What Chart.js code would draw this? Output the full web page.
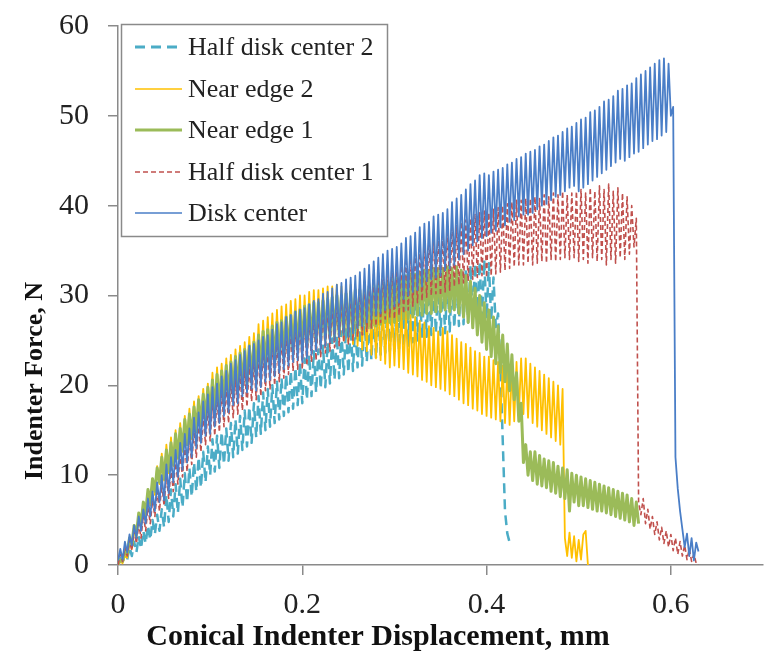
<!DOCTYPE html>
<html>
<head>
<meta charset="utf-8">
<script src="https://cdn.jsdelivr.net/npm/chart.js@4/dist/chart.umd.min.js"></script>
<style>
  html, body { margin: 0; padding: 0; background: #fff; }
  canvas { display: block; }
</style>
</head>
<body>
<canvas id="indenter" width="783" height="662"></canvas>
<script>
// displacement (mm), shared sampling grid, one row per 0.05 mm
const displacement = [
  0, 0.0025, 0.005, 0.0075, 0.01, 0.0125, 0.015, 0.0175, 0.02, 0.0225, 0.025, 0.0275, 0.03, 0.0325, 0.035, 0.0375, 0.04, 0.0425, 0.045, 0.0475,
  0.05, 0.0525, 0.055, 0.0575, 0.06, 0.0625, 0.065, 0.0675, 0.07, 0.0725, 0.075, 0.0775, 0.08, 0.0825, 0.085, 0.0875, 0.09, 0.0925, 0.095, 0.0975,
  0.1, 0.1025, 0.105, 0.1075, 0.11, 0.1125, 0.115, 0.1175, 0.12, 0.1225, 0.125, 0.1275, 0.13, 0.1325, 0.135, 0.1375, 0.14, 0.1425, 0.145, 0.1475,
  0.15, 0.1525, 0.155, 0.1575, 0.16, 0.1625, 0.165, 0.1675, 0.17, 0.1725, 0.175, 0.1775, 0.18, 0.1825, 0.185, 0.1875, 0.19, 0.1925, 0.195, 0.1975,
  0.2, 0.2025, 0.205, 0.2075, 0.21, 0.2125, 0.215, 0.2175, 0.22, 0.2225, 0.225, 0.2275, 0.23, 0.2325, 0.235, 0.2375, 0.24, 0.2425, 0.245, 0.2475,
  0.25, 0.2525, 0.255, 0.2575, 0.26, 0.2625, 0.265, 0.2675, 0.27, 0.2725, 0.275, 0.2775, 0.28, 0.2825, 0.285, 0.2875, 0.29, 0.2925, 0.295, 0.2975,
  0.3, 0.3025, 0.305, 0.3075, 0.31, 0.3125, 0.315, 0.3175, 0.32, 0.3225, 0.325, 0.3275, 0.33, 0.3325, 0.335, 0.3375, 0.34, 0.3425, 0.345, 0.3475,
  0.35, 0.3525, 0.355, 0.3575, 0.36, 0.3625, 0.365, 0.3675, 0.37, 0.3725, 0.375, 0.3775, 0.38, 0.3825, 0.385, 0.3875, 0.39, 0.3925, 0.395, 0.3975,
  0.4, 0.4025, 0.405, 0.4075, 0.41, 0.4125, 0.415, 0.4175, 0.42, 0.4225, 0.425, 0.4275, 0.43, 0.4325, 0.435, 0.4375, 0.44, 0.4425, 0.445, 0.4475,
  0.45, 0.4525, 0.455, 0.4575, 0.46, 0.4625, 0.465, 0.4675, 0.47, 0.4725, 0.475, 0.4775, 0.48, 0.4825, 0.485, 0.4875, 0.49, 0.4925, 0.495, 0.4975,
  0.5, 0.5025, 0.505, 0.5075, 0.51, 0.5125, 0.515, 0.5175, 0.52, 0.5225, 0.525, 0.5275, 0.53, 0.5325, 0.535, 0.5375, 0.54, 0.5425, 0.545, 0.5475,
  0.55, 0.5525, 0.555, 0.5575, 0.56, 0.5625, 0.565, 0.5675, 0.57, 0.5725, 0.575, 0.5775, 0.58, 0.5825, 0.585, 0.5875, 0.59, 0.5925, 0.595, 0.5975,
  0.6, 0.6025, 0.605, 0.6075, 0.61, 0.6125, 0.615, 0.6175, 0.62, 0.6225, 0.625, 0.6275, 0.63];

// indenter force (N) per series
const halfDiskCenter2 = [
  0, 0.8, 0.2, 1.4, 0.6, 2, 1, 2.6, 1.4, 3.2, 1.8, 3.8, 2.4, 4.4, 2.8, 5, 3.4, 5.6, 3.8, 6.2,
  4.2, 7.8, 4.8, 8.4, 5.4, 9, 5.8, 9.6, 6.4, 10.2, 7, 10.8, 7.6, 11.4, 8.2, 12, 8.6, 12.6, 9.2, 13.2,
  10, 14, 10.4, 14.4, 10.8, 14.8, 11.2, 15.2, 11.6, 15.8, 12, 16.2, 12.4, 16.6, 12.8, 17.2, 13.2, 17.6, 13.6, 18,
  14.2, 18.8, 14.6, 19.2, 15, 19.6, 15.4, 20, 15.8, 20.4, 16.2, 20.8, 16.6, 21.2, 17, 21.6, 17.4, 22, 17.8, 22.6,
  18, 23, 18.4, 23.4, 18.8, 23.8, 19.2, 24, 19.6, 24.4, 19.8, 24.8, 20.2, 25.2, 20.6, 25.6, 20.8, 26, 21.2, 26.4,
  21.4, 26.6, 21.6, 27, 22, 27.2, 22.2, 27.6, 22.6, 27.8, 22.8, 28.2, 23, 28.4, 23.4, 28.8, 23.6, 29, 23.8, 29.2,
  23.8, 29.4, 24, 29.6, 24.2, 29.8, 24.4, 30.2, 24.8, 30.4, 25, 30.6, 25.2, 31, 25.4, 31.2, 25.6, 31.4, 25.8, 31.6,
  25.6, 31.6, 25.8, 32, 26, 32.2, 26.4, 32.4, 26.6, 32.8, 26.8, 33, 27, 33.4, 27.2, 33.6, 27.4, 33.8, 27.6, 34,
  27.4, 33.6, 27.2, 32, 26.5, 28, 22, 14, 6, 3.5, 2.5];

const nearEdge2 = [
  0, 0.4, 0.2, 1, 0.8, 2.6, 1.8, 4, 3, 5.4, 4.2, 6.8, 5.4, 8.2, 6.6, 9.6, 7.8, 11, 9, 12.4,
  9.4, 13.4, 10.2, 14.2, 11, 15, 11.8, 15.8, 12.6, 16.6, 13.4, 17.4, 14, 18.2, 14.8, 18.8, 15.4, 19.6, 16, 20.2,
  16.6, 21.4, 17.2, 22, 17.8, 22.4, 18.2, 23, 18.8, 23.4, 19.2, 24, 19.6, 24.4, 20.2, 24.8, 20.6, 25.4, 21, 25.8,
  21.2, 26.8, 21.6, 27.2, 22, 27.6, 22.4, 28, 22.6, 28.4, 23, 28.8, 23.2, 29, 23.6, 29.4, 23.8, 29.6, 24, 30,
  24, 30, 24.2, 30.4, 24.4, 30.6, 24.6, 30.6, 24.8, 30.8, 24.8, 31, 25, 31, 25, 31.2, 25.2, 31, 25, 31,
  24.8, 31.2, 24.6, 30.8, 24.4, 30.6, 24, 30.4, 23.8, 30, 23.4, 29.8, 23, 29.4, 22.8, 29, 22.4, 28.8, 22, 28.4,
  22.2, 28.8, 22, 28.6, 21.8, 28.2, 21.4, 27.8, 21.2, 27.6, 21, 27.2, 20.6, 27, 20.4, 26.6, 20, 26.4, 19.8, 26,
  19.6, 26.4, 19.4, 26, 19, 25.6, 18.8, 25.2, 18.4, 24.8, 18, 24.6, 17.8, 24.2, 17.4, 23.8, 17.2, 23.6, 16.8, 23.2,
  16.6, 23.2, 16.4, 22.8, 16.2, 22.6, 16, 22.2, 15.8, 22, 15.6, 21.8, 16, 22.6, 16.6, 23, 16.8, 23, 16.4, 22.4,
  15.8, 22, 15.4, 21.6, 15, 21.2, 14.6, 20.8, 14.2, 20.4, 13.8, 20, 13.4, 19.6, 3, 1, 3.6, 0.8, 3.2, 0.4,
  2.8, 0.6, 3.4, 3.8, 0];

const nearEdge1 = [
  0, 0.6, 0.4, 1.6, 1.2, 3, 2.2, 4.4, 3.4, 5.8, 4.6, 7, 5.8, 8.4, 7, 9.6, 8.2, 10.8, 9.2, 12,
  9.6, 12.8, 10.4, 13.6, 11.2, 14.6, 12, 15.2, 12.8, 16.2, 13.4, 16.8, 14.2, 17.6, 14.8, 18.4, 15.6, 19, 16.2, 19.8,
  16.4, 20.6, 17, 21.2, 17.6, 21.6, 18, 22.2, 18.6, 22.6, 19, 23.2, 19.4, 23.6, 19.8, 24, 20.2, 24.4, 20.6, 24.8,
  21.2, 25.6, 21.6, 26, 22, 26.2, 22.2, 26.6, 22.6, 27, 22.8, 27.2, 23.2, 27.6, 23.4, 27.8, 23.8, 28.2, 24, 28.4,
  24.2, 28.8, 24.4, 29, 24.6, 29.2, 24.8, 29.2, 25, 29.4, 25.2, 29.6, 25.4, 29.8, 25.4, 30, 25.6, 30, 25.8, 30.2,
  25.6, 30.4, 25.8, 30.6, 26, 30.6, 26.2, 30.8, 26.4, 31, 26.4, 31.2, 26.6, 31.2, 26.8, 31.4, 27, 31.6, 27, 31.8,
  27, 32, 27.2, 32, 27.4, 32.2, 27.4, 32.4, 27.6, 32.4, 27.8, 32.6, 27.8, 32.8, 28, 32.8, 28, 33, 28.2, 33,
  28.2, 33, 28.4, 33.2, 28.2, 33, 28.4, 33.2, 28, 32.8, 27.6, 32.2, 27, 31.6, 26.4, 30.8, 25.6, 30, 24.8, 29.2,
  24, 28.4, 23.2, 27.6, 22.4, 26.6, 21.4, 25.6, 20.4, 24.6, 19.4, 23.4, 18.4, 21.4, 16, 18, 11.4, 13.4, 10, 12.6,
  9.4, 12.6, 9, 12.2, 8.8, 11.8, 8.6, 11.6, 8.2, 11.4, 8, 11, 7.6, 10.8, 7.4, 10.6, 6, 10.2, 7, 10,
  6.6, 9.8, 6.6, 9.6, 6.4, 9.4, 6.2, 9.2, 6, 9, 6, 8.8, 5.8, 8.6, 5.6, 8.4, 5.4, 8.2, 5.2, 8,
  5, 7.8, 4.8, 7.4, 4.4, 7, 4.6];

const halfDiskCenter1 = [
  0, 1.2, 0.4, 2, 1, 2.8, 1.6, 3.8, 2.4, 4.6, 3, 5.6, 3.8, 6.4, 4.6, 7.2, 5.4, 8.2, 6, 9,
  6.6, 10, 7.4, 10.8, 8.2, 11.8, 9, 12.4, 9.8, 13.4, 10.4, 14.2, 11.2, 15, 12, 15.8, 12.6, 16.6, 13.4, 17.4,
  13.8, 18.2, 14.4, 18.6, 14.8, 19.4, 15.4, 19.8, 15.8, 20.4, 16.4, 20.8, 16.8, 21.4, 17.2, 21.8, 17.6, 22.4, 18.2, 22.8,
  18.4, 23.4, 18.8, 23.8, 19.4, 24.2, 19.6, 24.6, 20, 25, 20.4, 25.4, 20.8, 25.8, 21.2, 26.2, 21.6, 26.6, 21.8, 27,
  21.8, 27.4, 22.2, 27.8, 22.6, 28, 22.8, 28.4, 23.2, 28.8, 23.6, 29, 23.8, 29.4, 24.2, 29.8, 24.4, 30, 24.8, 30.4,
  24.6, 30.6, 25, 31, 25.4, 31.2, 25.6, 31.6, 26, 32, 26.4, 32.4, 26.6, 32.8, 27, 33, 27.4, 33.4, 27.6, 33.8,
  27.4, 33.8, 27.8, 34.2, 28, 34.6, 28.4, 35, 28.8, 35.2, 29.2, 35.6, 29.4, 36, 29.8, 36.4, 30, 36.6, 30.2, 37,
  30, 37, 30.4, 37.4, 30.6, 37.6, 31, 37.8, 31.2, 38.2, 31.4, 38.4, 31.6, 38.6, 31.8, 39, 32, 39.2, 32.2, 39.4,
  32, 39.2, 32.2, 39.6, 32.4, 39.8, 32.6, 40, 32.8, 40.2, 33, 40.4, 33.2, 40.6, 33.4, 40.6, 33.4, 40.8, 33.6, 40.8,
  33.4, 41, 33.6, 40.8, 33.8, 41.2, 33.6, 41, 34, 41.4, 33.8, 41.2, 34, 41.6, 34.2, 41.2, 34, 41.4, 34.2, 41.6,
  33.8, 41.8, 34, 41.4, 33.6, 42, 34.2, 41.6, 33.8, 42.2, 34, 41.8, 33.4, 42.4, 34, 41.6, 33.6, 42, 34.2, 41.4,
  34, 41, 34.6, 40, 35.4, 38.6, 7, 5.6, 7.4, 4.6, 6.2, 4, 5.4, 3.4, 4.8, 2.8, 4.2, 2.4, 3.8, 2,
  3.4, 1.6, 3, 1.2, 2.6, 1, 2.2, 0.6, 1.8, 0.4, 1.2, 0.2, 0];

const diskCenter = [
  0.5, 1.8, 0.6, 2.6, 1.4, 3.4, 2.2, 4.4, 3, 5.4, 3.8, 6.2, 4.6, 7.4, 5.4, 8.2, 6, 9.2, 7, 10,
  7.2, 11.2, 8, 12, 9.2, 12.8, 9.8, 13.6, 10.6, 14.6, 11.4, 15.2, 12, 16.4, 13, 17, 13.6, 18.2, 14.4, 19,
  14.6, 19.8, 15.4, 20.2, 15.8, 21, 16.6, 21.6, 17, 22.4, 17.8, 22.8, 18, 23.4, 18.8, 23.8, 19.2, 24.4, 19.6, 24.6,
  19.4, 25, 19.8, 25.4, 20.4, 25.6, 20.6, 26.2, 21, 26.8, 21.4, 27, 21.8, 27.6, 22.2, 27.8, 22.6, 28.2, 22.8, 28.4,
  22.6, 28.6, 23, 29, 23.4, 29.4, 23.8, 29.6, 24, 30.2, 24.4, 30.4, 24.8, 30.8, 25, 31.2, 25.4, 31.4, 25.6, 31.8,
  25.4, 32, 25.8, 32.2, 26.4, 32.6, 26.6, 33, 27, 33.4, 27.4, 33.8, 27.8, 34.2, 28, 34.6, 28.4, 35, 28.6, 35.2,
  28.8, 35.4, 29.2, 35.8, 29.6, 36.4, 30, 36.6, 30.4, 37, 30.6, 37.6, 31, 38, 31.6, 38.2, 31.8, 38.8, 32, 39,
  32.2, 39.2, 32.8, 39.6, 33, 40.4, 33.4, 40.8, 34, 41.2, 34.6, 41.8, 35, 42.4, 35.6, 42.8, 36, 43.4, 36.4, 43.6,
  36.6, 43.4, 37, 43.8, 37.2, 44, 37.6, 44.2, 37.8, 44.6, 38.2, 44.8, 38.4, 45.2, 38.8, 45.4, 39, 45.8, 39, 46,
  39.2, 46.2, 39.6, 46.6, 40, 46.8, 40.2, 47.2, 40.6, 47.6, 41, 47.8, 41.2, 48.2, 41.6, 48.6, 42, 48.8, 42.2, 49.2,
  41.6, 49.6, 42, 49.8, 42.4, 50.4, 42.8, 50.6, 43.2, 51, 43.6, 51.6, 44, 51.8, 44.4, 52.2, 44.8, 52.8, 45.2, 53,
  45, 53.4, 45.4, 53.6, 45.8, 54.2, 46, 54.6, 46.4, 55, 46.8, 55.4, 47.2, 55.8, 47.4, 56.2, 47.8, 56.4, 48.2, 55.8,
  50, 51, 12, 8.5, 6, 4, 2, 3.5, 1, 3, 0.5, 2.5, 1.5];

const seriesNames = ["Half disk center 2", "Near edge 2", "Near edge 1", "Half disk center 1", "Disk center"];
const xTicks = [0, 0.2, 0.4, 0.6];
const yTicks = [0, 10, 20, 30, 40, 50, 60];

const SERIF = "'Liberation Serif', 'Times New Roman', serif";

function points(values) {
  return values.map((y, i) => ({ x: displacement[i], y: y }));
}

// legend drawn inside the plot, top left, plus the two axis titles
const boxLegend = {
  id: "boxLegend",
  afterDraw(chart) {
    const ctx = chart.ctx;
    ctx.save();
    ctx.fillStyle = "#fff";
    ctx.fillRect(121, 24, 266, 213);
    ctx.strokeStyle = "#8a8a8a";
    ctx.lineWidth = 1.5;
    ctx.strokeRect(121.5, 24.5, 266, 212);
    const rows = [47, 89, 130, 172, 213];
    chart.data.datasets.forEach((ds, i) => {
      const y = rows[i];
      ctx.strokeStyle = ds.borderColor;
      ctx.lineWidth = ds.legendWidth;
      ctx.setLineDash(ds.borderDash || []);
      ctx.beginPath();
      ctx.moveTo(135, y);
      ctx.lineTo(182, y);
      ctx.stroke();
      ctx.setLineDash([]);
      ctx.fillStyle = "#222";
      ctx.font = "26px " + SERIF;
      ctx.textBaseline = "middle";
      ctx.textAlign = "left";
      ctx.fillText(ds.label, 188, y + 1);
    });

    ctx.fillStyle = "#111";
    ctx.font = "bold 30px " + SERIF;
    ctx.textAlign = "center";
    ctx.textBaseline = "middle";
    ctx.fillText("Conical Indenter Displacement, mm", 378, 637);

    ctx.translate(35, 381);
    ctx.rotate(-Math.PI / 2);
    ctx.font = "bold 26px " + SERIF;
    ctx.fillText("Indenter Force, N", 0, 0);
    ctx.restore();
  }
};

const ctx = document.getElementById("indenter").getContext("2d");
const indenterChart = new Chart(ctx, {
  type: "line",
  data: {
    datasets: [
      {
        label: seriesNames[0],
        data: points(halfDiskCenter2),
        borderColor: "#4BACC6",
        borderWidth: 2.5,
        legendWidth: 3,
        borderDash: [10, 6],
        order: 5
      },
      {
        label: seriesNames[1],
        data: points(nearEdge2),
        borderColor: "#FFC000",
        borderWidth: 1.8,
        legendWidth: 1.5,
        order: 4
      },
      {
        label: seriesNames[2],
        data: points(nearEdge1),
        borderColor: "#9BBB59",
        borderWidth: 3,
        legendWidth: 3,
        order: 3
      },
      {
        label: seriesNames[3],
        data: points(halfDiskCenter1),
        borderColor: "#C0504D",
        borderWidth: 1.6,
        legendWidth: 1.5,
        borderDash: [5, 3],
        order: 2
      },
      {
        label: seriesNames[4],
        data: points(diskCenter),
        borderColor: "#4A7EC7",
        borderWidth: 1.8,
        legendWidth: 1.5,
        order: 1
      }
    ]
  },
  options: {
    responsive: false,
    animation: false,
    events: [],
    layout: { padding: { left: 0, top: 26, right: 20, bottom: 0 } },
    elements: {
      point: { radius: 0 },
      line: { tension: 0, borderJoinStyle: "round", borderCapStyle: "butt" }
    },
    plugins: {
      legend: { display: false },
      tooltip: { enabled: false },
      title: { display: false }
    },
    scales: {
      x: {
        type: "linear",
        min: 0,
        max: 0.7,
        afterBuildTicks(scale) {
          scale.ticks = xTicks.map(v => ({ value: v }));
        },
        afterFit(scale) {
          scale.height = 97;
        },
        border: { display: true, color: "#8a8a8a", width: 1.5 },
        grid: { drawOnChartArea: false, drawTicks: true, tickLength: 10, color: "#8a8a8a", lineWidth: 1.5 },
        ticks: {
          color: "#222",
          padding: 12,
          maxRotation: 0,
          font: { family: SERIF, size: 30 },
          callback: v => String(v)
        }
      },
      y: {
        min: 0,
        max: 60,
        afterBuildTicks(scale) {
          scale.ticks = yTicks.map(v => ({ value: v }));
        },
        afterFit(scale) {
          scale.width = 118;
          scale.paddingTop = 0;
          scale.paddingBottom = 0;
        },
        border: { display: true, color: "#8a8a8a", width: 1.5 },
        grid: { drawOnChartArea: false, drawTicks: true, tickLength: 10, color: "#8a8a8a", lineWidth: 1.5 },
        ticks: {
          color: "#222",
          padding: 19,
          font: { family: SERIF, size: 30 }
        }
      }
    }
  },
  plugins: [boxLegend]
});
</script>
</body>
</html>
